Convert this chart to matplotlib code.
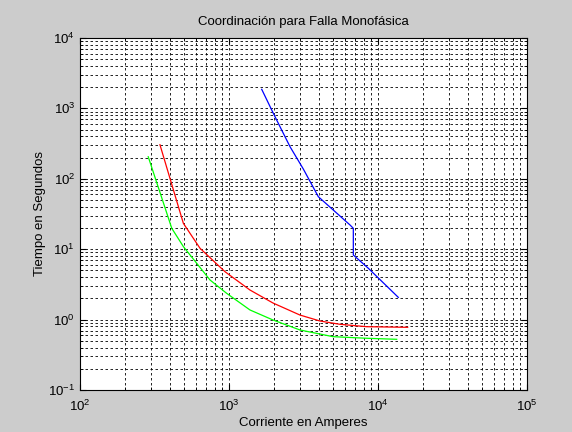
import numpy as np
import matplotlib.pyplot as plt
from matplotlib.ticker import LogLocator

plt.rcParams['font.family'] = ['Liberation Sans', 'DejaVu Sans']
plt.rcParams['mathtext.default'] = 'regular'
plt.rcParams['axes.unicode_minus'] = False

# curvas (corriente en A, tiempo en s)
i_azul = [1658, 1983, 2567, 3152, 3976, 6486, 6829, 6829, 8610, 13685]
t_azul = [1867, 852, 286, 138, 55.7, 22.1, 19.8, 8.27, 5.36, 2.07]

i_rojo = [344, 494, 639, 940, 1383, 1974, 2996, 4080, 5560, 8395, 15820]
t_rojo = [305, 23.3, 10.3, 4.79, 2.63, 1.72, 1.16, 0.955, 0.857, 0.793, 0.777]

i_verde = [287, 413, 494, 746, 965, 1383, 1974, 2996, 4990, 8395, 13350]
t_verde = [206, 19.8, 10.9, 3.65, 2.36, 1.37, 0.987, 0.712, 0.572, 0.543, 0.525]

fig = plt.figure(figsize=(5.72, 4.32), dpi=100, facecolor='#cccccc')
ax = fig.add_axes([80/572, 42/432, 447/572, 352/432])
ax.set_facecolor('white')

ax.loglog(i_rojo, t_rojo, color='r', lw=0.9)
ax.loglog(i_verde, t_verde, color='#00ff00', lw=0.9)
ax.loglog(i_azul, t_azul, color='b', lw=0.9)

ax.set_xlim(1e2, 1e5)
ax.set_ylim(1e-1, 1e4)
ax.xaxis.set_major_locator(LogLocator(base=10, numticks=10))
ax.yaxis.set_major_locator(LogLocator(base=10, numticks=10))
ax.xaxis.set_minor_locator(LogLocator(base=10, subs=np.arange(2, 10), numticks=20))
ax.yaxis.set_minor_locator(LogLocator(base=10, subs=np.arange(2, 10), numticks=20))

ax.grid(True, which='both', color='k', linestyle=(0, (3, 3)), linewidth=0.6)
ax.tick_params(which='both', direction='in', top=True, right=True, labelsize=9.5, color='k')
ax.tick_params(which='major', length=4)
ax.tick_params(which='minor', length=2)
ax.tick_params(axis='x', pad=6)
for s in ax.spines.values():
    s.set_linewidth(0.8)

ax.set_title('Coordinación para Falla Monofásica', fontsize=9.5, pad=9)
ax.set_xlabel('Corriente en Amperes', fontsize=9.5)
ax.set_ylabel('Tiempo en Segundos', fontsize=9.5)
ax.xaxis.set_label_coords(0.5, -0.078)
ax.yaxis.set_label_coords(-0.075, 0.5)

plt.savefig('out.png', dpi=100, facecolor=fig.get_facecolor())
